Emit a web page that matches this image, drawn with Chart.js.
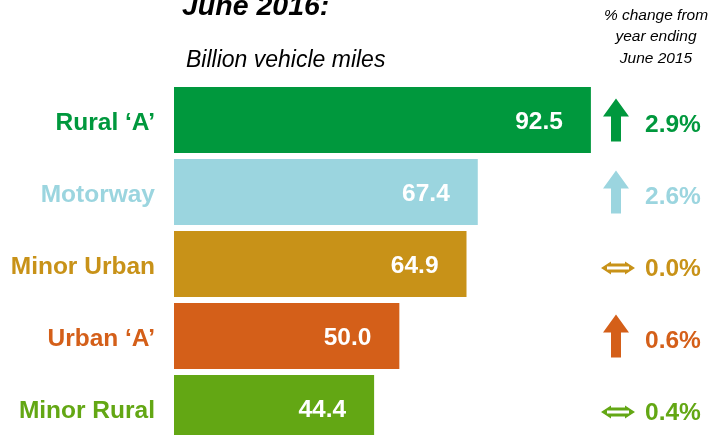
<!DOCTYPE html>
<html>
<head>
<meta charset="utf-8">
<script src="https://cdn.jsdelivr.net/npm/chart.js@4"></script>
<style>
html,body{margin:0;padding:0;background:#fff;overflow:hidden;}
canvas{display:block;}
</style>
</head>
<body>
<canvas id="c" width="711" height="450"></canvas>
<script>
const categories = ['Rural ‘A’', 'Motorway', 'Minor Urban', 'Urban ‘A’', 'Minor Rural'];
const values = [92.5, 67.4, 64.9, 50.0, 44.4];
const changes = [2.9, 2.6, 0.0, 0.6, 0.4];
const trends = ['up', 'up', 'flat', 'up', 'flat'];
const colors = ['#00983D', '#9BD5DF', '#C89218', '#D45F19', '#63A714'];

const FONT = '"Liberation Sans", Arial, sans-serif';

function drawUp(ctx, cx, cy, color) {
  const w = 26, h = 43, hh = 18, sw = 10;
  const top = cy - h / 2, bot = cy + h / 2;
  ctx.fillStyle = color;
  ctx.beginPath();
  ctx.moveTo(cx, top);
  ctx.lineTo(cx + w / 2, top + hh);
  ctx.lineTo(cx + sw / 2, top + hh);
  ctx.lineTo(cx + sw / 2, bot);
  ctx.lineTo(cx - sw / 2, bot);
  ctx.lineTo(cx - sw / 2, top + hh);
  ctx.lineTo(cx - w / 2, top + hh);
  ctx.closePath();
  ctx.fill();
}
function drawFlat(ctx, cx, cy, color) {
  const w = 34, h = 13, hw = 10, sh = 9;
  const l = cx - w / 2, r = cx + w / 2;
  ctx.fillStyle = color;
  ctx.beginPath();
  ctx.moveTo(l, cy);
  ctx.lineTo(l + hw, cy - h / 2);
  ctx.lineTo(l + hw, cy - sh / 2);
  ctx.lineTo(r - hw, cy - sh / 2);
  ctx.lineTo(r - hw, cy - h / 2);
  ctx.lineTo(r, cy);
  ctx.lineTo(r - hw, cy + h / 2);
  ctx.lineTo(r - hw, cy + sh / 2);
  ctx.lineTo(l + hw, cy + sh / 2);
  ctx.lineTo(l + hw, cy + h / 2);
  ctx.closePath();
  ctx.fill();
  ctx.fillStyle = '#fff';
  ctx.fillRect(l + 6, cy - 1.5, w - 12, 3);
}

const overlay = {
  id: 'overlay',
  afterDatasetsDraw(chart) {
    const ctx = chart.ctx;
    const meta = chart.getDatasetMeta(0);
    ctx.save();
    meta.data.forEach((bar, i) => {
      ctx.font = 'bold 24.5px ' + FONT;
      ctx.fillStyle = '#fff';
      ctx.textAlign = 'right';
      ctx.textBaseline = 'alphabetic';
      ctx.fillText(values[i].toFixed(1), bar.x - 28, bar.y + 8.5);
      if (trends[i] === 'up') drawUp(ctx, 616, bar.y, colors[i]);
      else drawFlat(ctx, 618, bar.y + 4, colors[i]);
      ctx.fillStyle = colors[i];
      ctx.textAlign = 'left';
      ctx.fillText(changes[i].toFixed(1) + '%', 645, bar.y + 11.5);
    });
    ctx.restore();
  },
  afterDraw(chart) {
    const ctx = chart.ctx;
    ctx.save();
    ctx.fillStyle = '#000';
    ctx.textBaseline = 'alphabetic';
    ctx.textAlign = 'left';
    ctx.font = 'italic bold 28.5px ' + FONT;
    ctx.fillText('June 2016:', 182, 15);
    ctx.font = 'italic 23px ' + FONT;
    ctx.fillText('Billion vehicle miles', 186, 66.5);
    ctx.font = 'italic 15.5px ' + FONT;
    ctx.textAlign = 'center';
    ctx.fillText('% change from', 656, 19.5);
    ctx.fillText('year ending', 656, 41);
    ctx.fillText('June 2015', 656, 62.5);
    ctx.restore();
  }
};

new Chart(document.getElementById('c'), {
  type: 'bar',
  data: {
    labels: categories,
    datasets: [{
      data: values,
      backgroundColor: colors,
      borderWidth: 0,
      barPercentage: 1,
      categoryPercentage: 66 / 72
    }]
  },
  options: {
    indexAxis: 'y',
    responsive: false,
    maintainAspectRatio: false,
    animation: false,
    layout: { padding: { top: 84, bottom: 6, left: 0, right: 86.3 } },
    plugins: { legend: { display: false }, tooltip: { enabled: false } },
    scales: {
      x: { display: false, min: 0, max: 100 },
      y: {
        grid: { display: false, drawTicks: false },
        border: { display: false },
        ticks: {
          color: (c) => colors[c.index],
          font: { family: FONT, size: 24.5, weight: 'bold' },
          padding: 19,
          labelOffset: 3
        },
        afterFit(s) {
          s.width = 174;
          s.paddingTop = 0;
          s.paddingBottom = 0;
        }
      }
    }
  },
  plugins: [overlay]
});
</script>
</body>
</html>
